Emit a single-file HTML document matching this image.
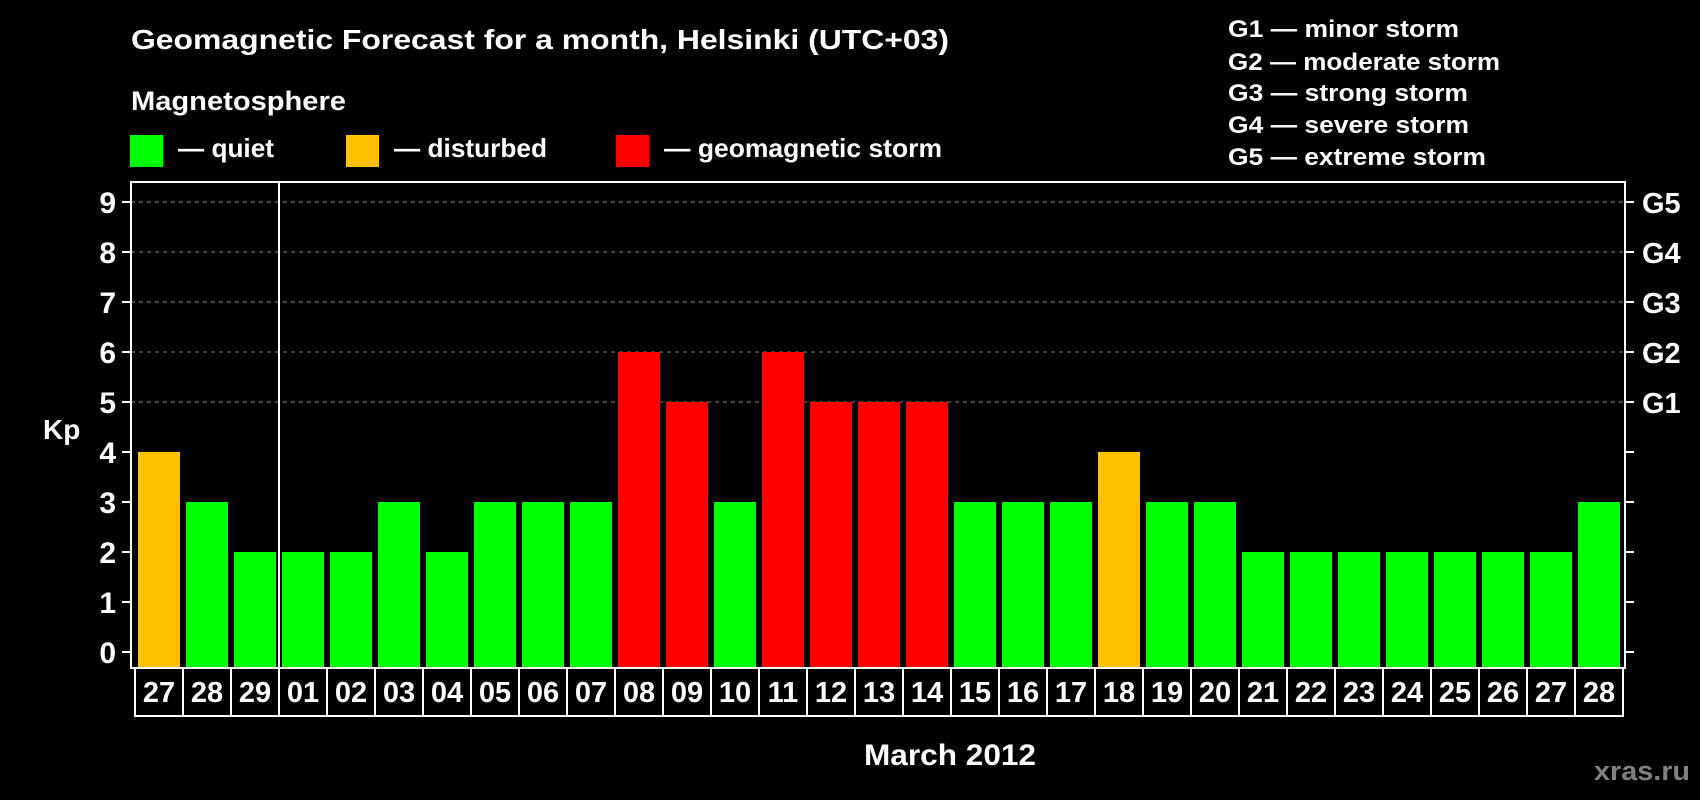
<!DOCTYPE html>
<html><head><meta charset="utf-8"><style>
html,body{margin:0;padding:0;background:#000;}
svg{display:block;font-family:"Liberation Sans",Arial,sans-serif;font-weight:bold;}
</style></head><body>
<svg id="chart" width="1700" height="800" viewBox="0 0 1700 800">
<rect width="1700" height="800" fill="#000"/>
<text x="131" y="49" font-size="28" fill="#fff" textLength="818" lengthAdjust="spacingAndGlyphs">Geomagnetic Forecast for a month, Helsinki (UTC+03)</text>
<text x="131" y="110" font-size="27" fill="#fff" textLength="215" lengthAdjust="spacingAndGlyphs">Magnetosphere</text>
<g><rect x="130" y="135" width="33" height="32" fill="#00ff00"/><text x="178" y="157" font-size="26" fill="#fff" textLength="96" lengthAdjust="spacingAndGlyphs">— quiet</text></g>
<g><rect x="346" y="135" width="33" height="32" fill="#ffc000"/><text x="394" y="157" font-size="26" fill="#fff" textLength="153" lengthAdjust="spacingAndGlyphs">— disturbed</text></g>
<g><rect x="616" y="135" width="33" height="32" fill="#ff0000"/><text x="664" y="157" font-size="26" fill="#fff" textLength="278" lengthAdjust="spacingAndGlyphs">— geomagnetic storm</text></g>
<g font-size="24" fill="#fff">
<text x="1228" y="37" textLength="231" lengthAdjust="spacingAndGlyphs">G1 — minor storm</text>
<text x="1228" y="70" textLength="272" lengthAdjust="spacingAndGlyphs">G2 — moderate storm</text>
<text x="1228" y="101" textLength="240" lengthAdjust="spacingAndGlyphs">G3 — strong storm</text>
<text x="1228" y="133" textLength="241" lengthAdjust="spacingAndGlyphs">G4 — severe storm</text>
<text x="1228" y="165" textLength="258" lengthAdjust="spacingAndGlyphs">G5 — extreme storm</text>
</g>
<text x="43" y="439" font-size="28" fill="#fff">Kp</text>
<text x="864" y="765" font-size="30" fill="#fff" textLength="172" lengthAdjust="spacingAndGlyphs">March 2012</text>
<text x="1594" y="780" font-size="27" fill="#808080" textLength="96" lengthAdjust="spacingAndGlyphs">xras.ru</text>
<g id="grid"></g><g id="bars"></g><g id="axes"></g><g id="labels"></g>
</svg>
<script>
const days = ["27","28","29","01","02","03","04","05","06","07","08","09","10","11","12","13","14","15","16","17","18","19","20","21","22","23","24","25","26","27","28"];
const kp = [4,3,2,2,2,3,2,3,3,3,6,5,3,6,5,5,5,3,3,3,4,3,3,2,2,2,2,2,2,2,3];
const yTicks = [0,1,2,3,4,5,6,7,8,9];
const gLevels = ["G1","G2","G3","G4","G5"];
const gValues = [5,6,7,8,9];
const NS="http://www.w3.org/2000/svg";
const L=131,R=1625,T=182,B=668,X0=135,STEP=48;
function y(v){return 652-50*v;}
function x(i){return X0+i*STEP;}
function mk(tag,attrs,parent){const e=document.createElementNS(NS,tag);for(const k in attrs)e.setAttribute(k,attrs[k]);parent.appendChild(e);return e;}
function color(v){return v>=5?"#ff0000":(v>=4?"#ffc000":"#00ff00");}
const grid=document.getElementById('grid'),bars=document.getElementById('bars'),axes=document.getElementById('axes'),labels=document.getElementById('labels');
gValues.forEach((v,i)=>{
  const l=mk('line',{x1:L,x2:R,y1:y(v),y2:y(v),stroke:"#888","stroke-width":1,"stroke-dasharray":"4 4"},grid);
  
  
  const t=mk('text',{x:1642,y:y(v)+11,"font-size":29,fill:"#fff"},axes);t.textContent=gLevels[i];
  
  
});
kp.forEach((v,i)=>{
  const r=mk('rect',{x:x(i)+3,y:y(v),width:42,height:B-y(v),fill:color(v)},bars);
  
  
  const t=mk('text',{x:x(i)+24,y:702,"font-size":29,fill:"#fff","text-anchor":"middle"},labels);t.textContent=days[i];
  
  
  if(i>0){mk('line',{x1:x(i),x2:x(i),y1:B,y2:716,stroke:"#fff","stroke-width":2},labels);}
});
mk('rect',{x:X0,y:B,width:x(days.length)-X0,height:716-B,fill:"none",stroke:"#fff","stroke-width":2},labels);
yTicks.forEach(v=>{
  mk('line',{x1:122,x2:L,y1:y(v),y2:y(v),stroke:"#fff","stroke-width":2},axes);
  mk('line',{x1:R,x2:1634,y1:y(v),y2:y(v),stroke:"#fff","stroke-width":2},axes);
  const t=mk('text',{x:116,y:y(v)+11,"font-size":30,fill:"#fff","text-anchor":"end"},axes);t.textContent=v;
  
  
});
const box=mk('rect',{x:L,y:T,width:R-L,height:B-T,fill:"none",stroke:"#fff","stroke-width":2},axes);


const sep=mk('line',{x1:x(3),x2:x(3),y1:T,y2:B,stroke:"#fff","stroke-width":2},axes);


</script>
</body></html>
